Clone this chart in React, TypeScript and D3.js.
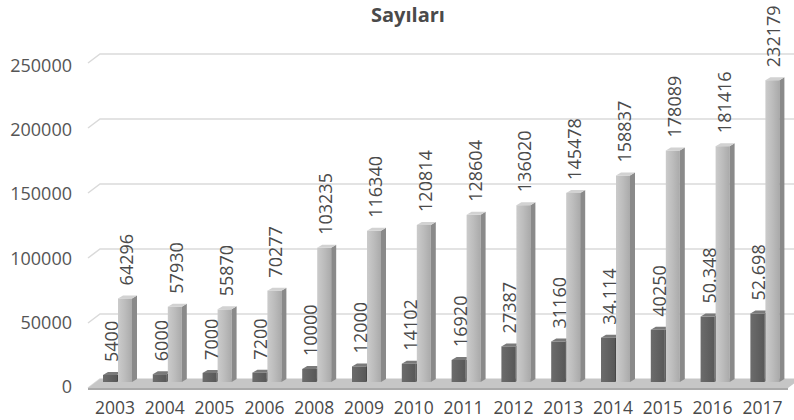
import * as d3 from "d3";

const years = ["2003", "2004", "2005", "2006", "2008", "2009", "2010", "2011", "2012", "2013", "2014", "2015", "2016", "2017"];
const darkValues = [5400, 6000, 7000, 7200, 10000, 12000, 14102, 16920, 27387, 31160, 34114, 40250, 50348, 52698];
const darkLabels = ["5400", "6000", "7000", "7200", "10000", "12000", "14102", "16920", "27387", "31160", "34.114", "40250", "50.348", "52.698"];
const lightValues = [64296, 57930, 55870, 70277, 103235, 116340, 120814, 128604, 136020, 145478, 158837, 178089, 181416, 232179];
const yTicks = [0, 50000, 100000, 150000, 200000, 250000];

const W = 794;
const H = 420;
const BASE = 382;
const DX = 5;
const DY = 3;
const FONT = "'Open Sans', sans-serif";

const Bar3D = ({ x, y, w, h, front, side, top }) => (
  <g>
    <rect x={x} y={y} width={w} height={h} fill={front} />
    <polygon points={`${x + w},${y} ${x + w + DX},${y - DY} ${x + w + DX},${y + h - DY} ${x + w},${y + h}`} fill={side} />
    <polygon points={`${x},${y} ${x + DX},${y - DY} ${x + w + DX},${y - DY} ${x + w},${y}`} fill={top} />
  </g>
);

export default function App() {
  const xScale = d3.scaleBand().domain(years).range([93, 93 + 14 * 49.8]);
  const yScale = d3.scaleLinear().domain([0, 250000]).range([BASE, BASE - 325]);
  const labelY = d3.scaleLinear().domain([0, 250000]).range([393, 72]);

  return (
    <div style={{ position: "absolute", left: 0, top: 0 }}>
      <svg width={W} height={H} style={{ display: "block" }}>
        <defs>
          <linearGradient id="lightFront" x1="0" x2="1" y1="0" y2="0">
            <stop offset="0" stopColor="#cbcbcb" />
            <stop offset="0.5" stopColor="#bcbcbc" />
            <stop offset="1" stopColor="#aaaaaa" />
          </linearGradient>
          <linearGradient id="darkFront" x1="0" x2="1" y1="0" y2="0">
            <stop offset="0" stopColor="#6c6c6c" />
            <stop offset="1" stopColor="#585858" />
          </linearGradient>
        </defs>
        <rect width={W} height={H} fill="#fff" />

        <text x={408} y={22} textAnchor="middle" fontFamily={FONT} fontWeight="bold" fontSize={20} fill="#4a4a4a">
          Sayıları
        </text>

        {/* gridlines */}
        {yTicks.map((t) => {
          const yb = yScale(t) - 3;
          return (
            <polyline
              key={t}
              points={`88,${yb + 9} 100,${yb} ${W},${yb}`}
              fill="none"
              stroke="#dadada"
              strokeWidth={1.5}
            />
          );
        })}

        {/* floor */}
        <polygon points={`88,388 100,379 ${W + 6},379 788,388`} fill="#c6c6c6" />
        <polygon points={`88,388 788,388 788,390 88,390`} fill="#a9a9a9" />

        {yTicks.map((t) => (
          <text key={t} x={72} y={labelY(t)} textAnchor="end" fontFamily={FONT} fontSize={18} fill="#555">
            {t}
          </text>
        ))}

        {years.map((yr, i) => {
          const b = xScale(yr) ?? 0;
          const yd = yScale(darkValues[i]);
          const yl = yScale(lightValues[i]);
          return (
            <g key={yr}>
              <Bar3D x={b + 10} y={yd} w={14} h={BASE - yd} front="url(#darkFront)" side="#474747" top="#7a7a7a" />
              <Bar3D x={b + 25} y={yl} w={14} h={BASE - yl} front="url(#lightFront)" side="#8a8a8a" top="#d2d2d2" />
              <text
                transform={`translate(${b + 18},${yd - DY - 10}) rotate(-90)`}
                dominantBaseline="central"
                fontFamily={FONT}
                fontSize={18}
                fill="#4a4a4a"
              >
                {darkLabels[i]}
              </text>
              <text
                transform={`translate(${b + 33},${yl - DY - 10}) rotate(-90)`}
                dominantBaseline="central"
                fontFamily={FONT}
                fontSize={18}
                fill="#4a4a4a"
              >
                {lightValues[i]}
              </text>
              <text x={b + 22} y={414} textAnchor="middle" fontFamily={FONT} fontSize={17.5} fill="#4a4a4a">
                {yr}
              </text>
            </g>
          );
        })}
      </svg>
    </div>
  );
}
